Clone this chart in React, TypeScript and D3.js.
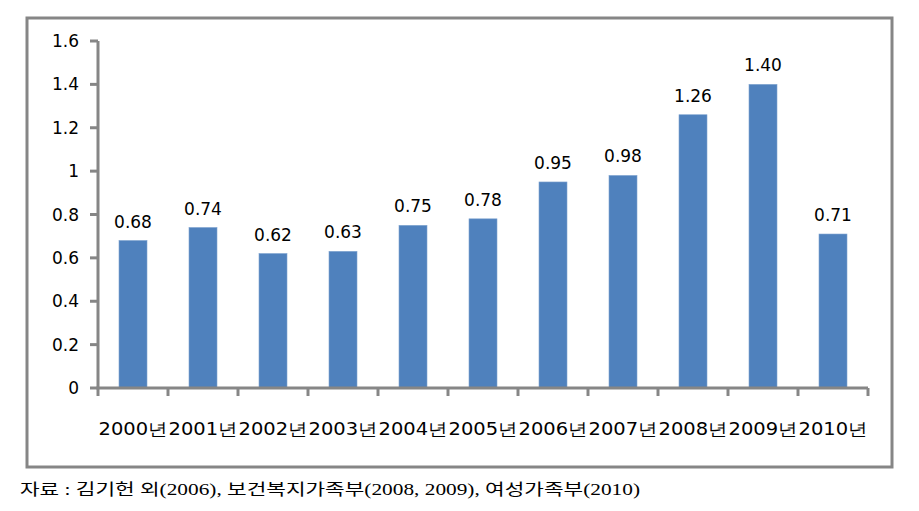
import React from "react";
import * as d3 from "d3";

const categories = ["2000년", "2001년", "2002년", "2003년", "2004년", "2005년", "2006년", "2007년", "2008년", "2009년", "2010년"];
const values = [0.68, 0.74, 0.62, 0.63, 0.75, 0.78, 0.95, 0.98, 1.26, 1.40, 0.71];
const yTicks = [0, 0.2, 0.4, 0.6, 0.8, 1, 1.2, 1.4, 1.6];
const caption = "자료 : 김기헌 외(2006), 보건복지가족부(2008, 2009), 여성가족부(2010)";

export default function App() {
  const W = 919, H = 511;
  const x0 = 98, x1 = 868, y0 = 388, y1 = 41;
  const x = d3.scaleBand<string>().domain(categories).range([x0, x1]).paddingInner(0.6).paddingOuter(0.3);
  const band = d3.scaleBand<string>().domain(categories).range([x0, x1]);
  const y = d3.scaleLinear().domain([0, 1.6]).range([y0, y1]);
  const font = "DejaVu Sans";
  const axisColor = "#868686";
  const yFmt = (v: number) => (v === 0 || v === 1 ? String(v) : d3.format(".1f")(v));
  return (
    <svg width={W} height={H} style={{ position: "absolute", left: 0, top: 0, background: "#fff" }}>
      <rect x={27} y={18} width={865} height={449} fill="#fff" stroke={axisColor} strokeWidth={3} />
      {values.map((v, i) => (
        <rect key={i} x={x(categories[i])!} y={y(v)} width={x.bandwidth()} height={y0 - y(v)} fill="#4f81bd" stroke="#7fa3cf" strokeWidth={0.6} />
      ))}
      {values.map((v, i) => (
        <text key={"l" + i} x={x(categories[i])! + x.bandwidth() / 2} y={y(v) - 13} textAnchor="middle" style={{ fontFamily: font, fontSize: 17 }} fill="#000">
          {d3.format(".2f")(v)}
        </text>
      ))}
      <line x1={x0} x2={x0} y1={y1} y2={y0} stroke={axisColor} strokeWidth={3} />
      <line x1={x0 - 1.5} x2={x1} y1={y0} y2={y0} stroke={axisColor} strokeWidth={3} />
      {yTicks.map((t) => (
        <g key={t}>
          <line x1={x0 - 8} x2={x0} y1={y(t)} y2={y(t)} stroke={axisColor} strokeWidth={3} />
          <text x={79} y={y(t) + 6} textAnchor="end" style={{ fontFamily: font, fontSize: 17 }} fill="#000">{yFmt(t)}</text>
        </g>
      ))}
      {[...categories.map((c) => band(c)!), x1].map((p, i) => (
        <line key={"t" + i} x1={p} x2={p} y1={y0} y2={y0 + 8} stroke={axisColor} strokeWidth={3} />
      ))}
      {categories.map((c) => (
        <text key={c} x={band(c)! + band.bandwidth() / 2} y={435} textAnchor="middle" textLength={69} lengthAdjust="spacingAndGlyphs" style={{ fontFamily: font, fontSize: 17 }} fill="#000">{c}</text>
      ))}
      <text x={20} y={495} textLength={620} lengthAdjust="spacingAndGlyphs" style={{ fontFamily: "'Liberation Serif', 'Noto Sans CJK KR', serif", fontSize: 16 }} fill="#000">{caption}</text>
    </svg>
  );
}
